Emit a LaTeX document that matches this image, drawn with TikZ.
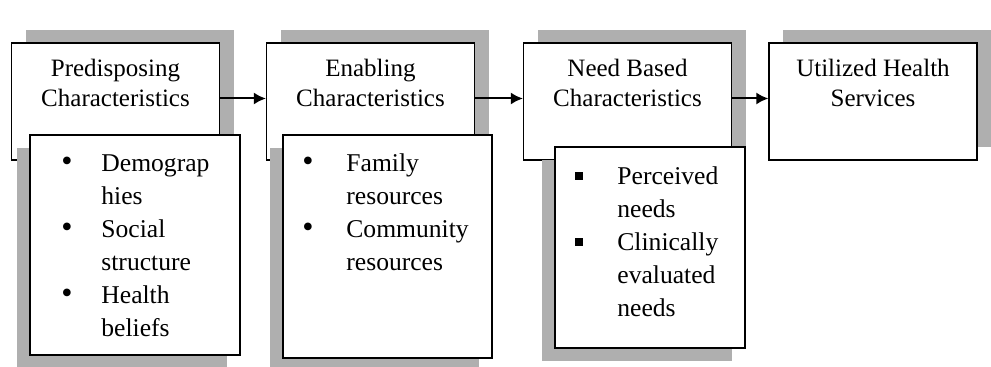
\documentclass[tikz,border=0pt]{standalone}
\usepackage{fontspec}
\setmainfont{Liberation Serif}
\usetikzlibrary{shadows,arrows.meta}
\definecolor{shadowgray}{RGB}{175,175,175}
\newcommand{\sqbul}{\rule[2.4pt]{4pt}{4pt}}
\newcommand{\rdbul}{{\fontsize{16}{16}\selectfont\textbullet}}

\begin{document}
\begin{tikzpicture}[x=0.5pt, y=-0.5pt]

\tikzset{headbox/.style={draw, line width=0.6pt, fill=white, inner sep=0pt, minimum width=104pt, minimum height=58.5pt, drop shadow={fill=shadowgray, opacity=1, shadow xshift=7pt, shadow yshift=6.5pt}}}
\tikzset{listbox/.style={draw, line width=0.7pt, fill=white, inner sep=0pt, drop shadow={fill=shadowgray, opacity=1, shadow xshift=-6.5pt, shadow yshift=-6.5pt}}}
\tikzset{headtext/.style={anchor=north, inner sep=0pt, align=center, font=\fontsize{12.5}{15}\selectfont}}
\tikzset{listtext/.style={anchor=north west, inner sep=0pt, font=\fontsize{12.8}{16.5}\selectfont}}
\tikzset{flowarrow/.style={-{Latex[length=6pt,width=6pt]}, line width=1pt}}

\useasboundingbox (0,0) rectangle (991,367);

% top boxes
\node[headbox] (pc) at (115.5, 101.5) {};
\node[headbox] (ec) at (370.5, 101.5) {};
\node[headbox] (nc) at (627.5, 101.5) {};
\node[headbox] (uh) at (873.0, 101.5) {};

\path ([yshift=1.5pt]pc.east) edge [flowarrow] ([yshift=1.5pt]ec.west);
\path ([yshift=1.5pt]ec.east) edge [flowarrow] ([yshift=1.5pt]nc.west);
\path ([yshift=1.5pt]nc.east) edge [flowarrow] ([yshift=1.5pt]uh.west);

% lists below
\node[listbox, minimum width=105pt, minimum height=110pt] (pcl) at (135.0, 245.0) {};
\node[listbox, minimum width=104.5pt, minimum height=111.5pt] (ecl) at (387.5, 246.5) {};
\node[listbox, minimum width=95pt, minimum height=100.5pt] (ncl) at (650.0, 247.5) {};

\node[headtext] (pct) at (115.5, 59) {Predisposing\\Characteristics};
\node[headtext] (ect) at (370.5, 59) {Enabling\\Characteristics};
\node[headtext] (nct) at (627.5, 59) {Need Based\\Characteristics};
\node[headtext] (uht) at (873.0, 59) {Utilized Health\\Services};

\node[listtext] (pclt) at (61, 148) {\begin{tabular}{@{}p{20pt}@{}l@{}}
\rdbul & Demograp\\ & hies\\ \rdbul & Social\\ & structure\\ \rdbul & Health\\ & beliefs
\end{tabular}};
\node[listtext] (eclt) at (302, 148) {\begin{tabular}{@{}p{22pt}@{}l@{}}
\rdbul & Family\\ & resources\\ \rdbul & Community\\ & resources
\end{tabular}};
\node[listtext] (nclt) at (575, 161) {\begin{tabular}{@{}p{21pt}@{}l@{}}
\sqbul & Perceived\\ & needs\\ \sqbul & Clinically\\ & evaluated\\ & needs
\end{tabular}};
\end{tikzpicture}
\end{document}
